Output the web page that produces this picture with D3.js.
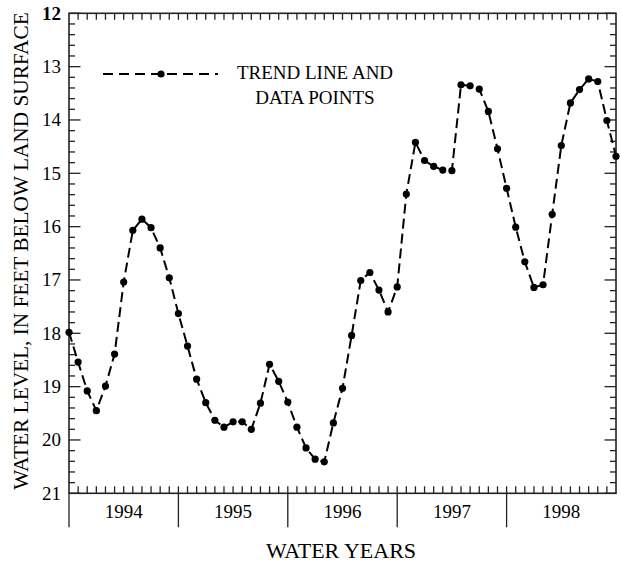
<!DOCTYPE html>
<html>
<head>
<meta charset="utf-8">
<script src="https://cdn.jsdelivr.net/npm/d3@7"></script>
<style>
  html, body { margin: 0; padding: 0; background: #fff; }
  svg { display: block; }
  text { font-family: "Liberation Serif", "Times New Roman", serif; fill: #000; }
</style>
</head>
<body>
<div id="chart"></div>
<script>
// Monthly water levels (feet below land surface), Oct 1993 .. Oct 1998
const waterLevels = [
  17.98, 18.54, 19.08, 19.45, 18.99, 18.39, 17.04, 16.07, 15.86, 16.02, 16.40, 16.96,
  17.63, 18.24, 18.86, 19.30, 19.63, 19.76, 19.66, 19.66, 19.80, 19.31, 18.58, 18.90,
  19.29, 19.76, 20.15, 20.36, 20.41, 19.68, 19.03, 18.04, 17.01, 16.86, 17.19, 17.60,
  17.13, 15.39, 14.42, 14.76, 14.87, 14.94, 14.95, 13.34, 13.36, 13.42, 13.84, 14.54,
  15.28, 16.01, 16.66, 17.14, 17.09, 15.77, 14.48, 13.68, 13.43, 13.23, 13.28, 14.01,
  14.68
];
const yearLabels = ["1994", "1995", "1996", "1997", "1998"];
const yTickValues = [12, 13, 14, 15, 16, 17, 18, 19, 20, 21];
const legendLines = ["TREND LINE AND", "DATA POINTS"];
const yTitle = "WATER LEVEL, IN FEET BELOW LAND SURFACE";
const xTitle = "WATER YEARS";

const W = 621, H = 562;
const L = 69, R = 616, T = 13.3, B = 493.3;

const svg = d3.select("#chart").append("svg").attr("width", W).attr("height", H);

const x = d3.scaleLinear().domain([0, 60]).range([L, R]);
const y = d3.scaleLinear().domain([12, 21]).range([T, B]);

const axisColor = "#222";
const g = svg.append("g");

// Minor y ticks every 0.2
const yMinor = d3.range(12, 21.001, 0.2).map(v => Math.round(v * 10) / 10);
g.selectAll(".yminL").data(yMinor).join("line")
  .attr("x1", L).attr("x2", d => L + (Number.isInteger(d) ? 11.5 : 6))
  .attr("y1", d => y(d)).attr("y2", d => y(d))
  .attr("stroke", axisColor).attr("stroke-width", 1.3);
g.selectAll(".yminR").data(yMinor).join("line")
  .attr("x1", R).attr("x2", d => R - (Number.isInteger(d) ? 11.5 : 6))
  .attr("y1", d => y(d)).attr("y2", d => y(d))
  .attr("stroke", axisColor).attr("stroke-width", 1.3);

// Monthly ticks top and bottom
const months = d3.range(1, 60);
g.selectAll(".mtop").data(months).join("line")
  .attr("x1", d => x(d)).attr("x2", d => x(d))
  .attr("y1", T).attr("y2", T + 6.5)
  .attr("stroke", axisColor).attr("stroke-width", 1.3);
g.selectAll(".mbot").data(months).join("line")
  .attr("x1", d => x(d)).attr("x2", d => x(d))
  .attr("y1", B).attr("y2", B - 7)
  .attr("stroke", axisColor).attr("stroke-width", 1.3);

// Year boundaries below the axis
const yearStarts = yearLabels.map((_, i) => i * 12);
g.selectAll(".yb").data(yearStarts).join("line")
  .attr("x1", d => x(d)).attr("x2", d => x(d))
  .attr("y1", B).attr("y2", B + 34)
  .attr("stroke", axisColor).attr("stroke-width", 1.3);

// Frame
g.append("rect").attr("x", L).attr("y", T).attr("width", R - L).attr("height", B - T)
  .attr("fill", "none").attr("stroke", axisColor).attr("stroke-width", 1.6);

// Y tick labels
g.selectAll(".ylab").data(yTickValues).join("text")
  .attr("x", 61).attr("y", d => y(d) + 6.3)
  .attr("text-anchor", "end").attr("font-size", 19)
  .attr("font-weight", d => d === 12 ? "bold" : "normal")
  .text(d => d);

// Year labels
g.selectAll(".xlab").data(yearLabels).join("text")
  .attr("x", (d, i) => x(i * 12 + 6)).attr("y", 518)
  .attr("text-anchor", "middle").attr("font-size", 19)
  .text(d => d);

// Axis titles
svg.append("text")
  .attr("transform", `translate(28,251) rotate(-90)`)
  .attr("text-anchor", "middle").attr("font-size", 21.3)
  .text(yTitle);
svg.append("text")
  .attr("x", 341).attr("y", 558)
  .attr("text-anchor", "middle").attr("font-size", 22)
  .text(xTitle);

// Data line
const line = d3.line().x((d, i) => x(i)).y(d => y(d));
svg.append("path").datum(waterLevels)
  .attr("d", line).attr("fill", "none")
  .attr("stroke", "#000").attr("stroke-width", 2)
  .attr("stroke-dasharray", "10,5");
svg.selectAll(".pt").data(waterLevels).join("circle")
  .attr("cx", (d, i) => x(i)).attr("cy", d => y(d))
  .attr("r", 3.6).attr("fill", "#000");

// Legend
const leg = svg.append("g");
leg.append("line").attr("x1", 103).attr("x2", 218).attr("y1", 74).attr("y2", 74)
  .attr("stroke", "#000").attr("stroke-width", 2).attr("stroke-dasharray", "10,6");
leg.append("circle").attr("cx", 161).attr("cy", 74).attr("r", 3.6).attr("fill", "#000");
leg.selectAll(".lt").data(legendLines).join("text")
  .attr("x", 315).attr("y", (d, i) => 79 + i * 25)
  .attr("text-anchor", "middle").attr("font-size", 19)
  .text(d => d);
</script>
</body>
</html>
